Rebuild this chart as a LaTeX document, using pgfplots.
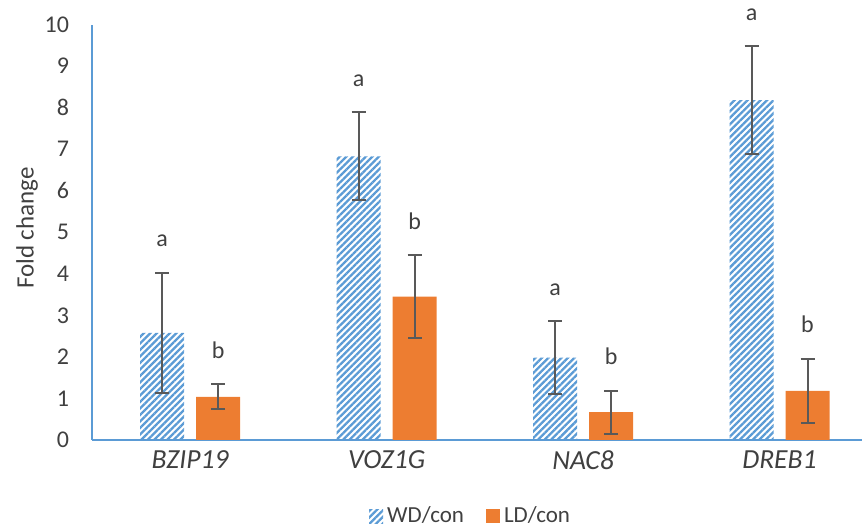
\documentclass[border=0pt]{standalone}
\usepackage{fontspec}
\setmainfont{Carlito}
\usepackage{pgfplots}
\usepackage{pgfplotstable}
\pgfplotsset{compat=1.18}
\usetikzlibrary{patterns.meta}

\definecolor{wdblue}{HTML}{5B9BD5}
\definecolor{ldorange}{HTML}{ED7D31}
\definecolor{axisblue}{HTML}{5B9BD5}
\definecolor{txtgray}{HTML}{404040}
\definecolor{errgray}{HTML}{595959}

% fold change (mean, error) per gene
\pgfplotstableread{
x val err
0 2.58 1.45
1 6.83 1.06
2 1.98 0.88
3 8.18 1.30
}\wdtable
\pgfplotstableread{
x val err
0 1.04 0.30
1 3.45 1.00
2 0.67 0.52
3 1.18 0.78
}\ldtable

\begin{document}
\begin{tikzpicture}
\begin{axis}[
  scale only axis,
  width=385pt, height=207.7pt,
  xmin=-0.5, xmax=3.42,
  ymin=0, ymax=10,
  ybar=6pt, bar width=22pt,
  axis x line*=bottom, axis y line*=left,
  axis line style={draw=axisblue, line width=0.75pt},
  xtick={0,1,2,3},
  xticklabels={\textit{BZIP19},\textit{VOZ1G},\textit{NAC8},\textit{DREB1}},
  ytick={0,1,...,10},
  major tick length=0pt,
  /pgf/number format/assume math mode=true,
  tick label style={font=\fontsize{12}{14}\selectfont, text=txtgray},
  xticklabel style={font=\fontsize{13.8}{16}\selectfont, yshift=-2pt},
  yticklabel style={xshift=-8pt},
  ylabel={Fold change},
  ylabel style={font=\fontsize{12.5}{15}\selectfont, text=txtgray,
    at={(axis description cs:-0.0844,0.51)}, anchor=center},
  clip=false,
  legend style={at={(0.493,-0.183)}, anchor=center, draw=none, fill=none,
    legend columns=2, font=\fontsize{11.5}{14}\selectfont, text=txtgray,
    /tikz/every even column/.append style={column sep=9pt}},
  legend image code/.code={\path[#1] (0pt,-3.5pt) rectangle (7pt,3.5pt);},
  error bars/y dir=both, error bars/y explicit,
  error bars/error bar style={draw=errgray, line width=1pt},
  error bars/error mark options={draw=errgray, rotate=90, mark size=3.5pt, line width=1pt},
]
\addplot[draw=none, pattern={Lines[angle=45, distance=2.3pt, line width=1.15pt]}, pattern color=wdblue]
  table[x=x, y=val, y error=err] {\wdtable};
\addplot[draw=none, fill=ldorange]
  table[x=x, y=val, y error=err] {\ldtable};
\legend{WD/con, LD/con}

% significance letters above the error bars
\begin{scope}[every node/.style={font=\fontsize{12}{14}\selectfont, text=txtgray, anchor=base, inner sep=0pt}]
\node[xshift=-14pt, yshift=13pt] at (axis cs:0,4.03) {a};
\node[xshift=14pt, yshift=13pt]  at (axis cs:0,1.34) {b};
\node[xshift=-14pt, yshift=13pt] at (axis cs:1,7.89) {a};
\node[xshift=14pt, yshift=13pt]  at (axis cs:1,4.45) {b};
\node[xshift=-14pt, yshift=13pt] at (axis cs:2,2.86) {a};
\node[xshift=14pt, yshift=13pt]  at (axis cs:2,1.19) {b};
\node[xshift=-14pt, yshift=13pt] at (axis cs:3,9.48) {a};
\node[xshift=14pt, yshift=13pt]  at (axis cs:3,1.96) {b};
\end{scope}

\coordinate (bl) at (rel axis cs:0,0);
\coordinate (tr) at (rel axis cs:1,1);
\end{axis}
\pgfresetboundingbox
\path ([xshift=-46pt, yshift=-44.5pt]bl) rectangle ([xshift=1pt, yshift=12.3pt]tr);
\end{tikzpicture}
\end{document}
